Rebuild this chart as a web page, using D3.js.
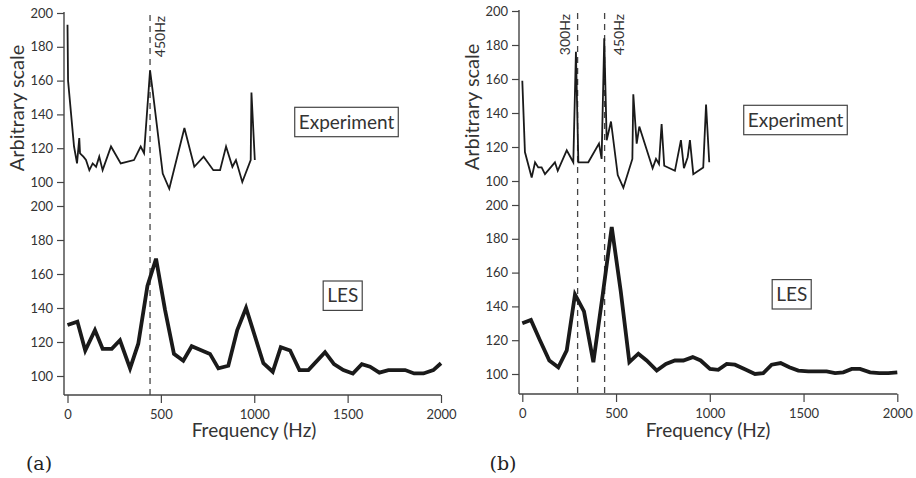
<!DOCTYPE html>
<html>
<head>
<meta charset="utf-8">
<script src="https://cdn.jsdelivr.net/npm/d3@7"></script>
<style>
  body { margin: 0; background: #fff; }
  svg { display: block; }
  text { font-family: Lato, "Open Sans", sans-serif; fill: #333; }
</style>
</head>
<body>
<div id="chart"></div>
<script>
// Spectra (frequency in Hz, arbitrary scale)
const expAFreq = [0, 3, 35, 51, 63, 67, 85, 99, 117, 135, 153, 170, 188, 233, 285, 356, 392, 410, 442, 456, 510, 545, 626, 679, 729, 781, 817, 849, 883, 902, 936, 981, 985, 1003];
const expAVal  = [193, 160, 121, 111, 126, 117, 115, 113, 107, 111, 109, 115, 107, 121, 111, 113, 121, 117, 166, 154, 105, 96, 132, 109, 115, 107, 107, 121, 109, 113, 100, 113, 153, 113];

const lesAFreq = [0, 53, 95, 147, 188, 237, 281, 335, 379, 428, 474, 522, 570, 620, 665, 719, 763, 808, 861, 909, 956, 1049, 1099, 1142, 1192, 1242, 1290, 1379, 1427, 1477, 1528, 1576, 1620, 1670, 1718, 1808, 1856, 1906, 1959, 2000];
const lesAVal  = [130, 132, 115, 127, 116, 116, 121, 104.5, 119, 153, 169, 139, 113, 109, 117.5, 115, 113, 104.5, 106, 127, 140, 107.5, 102.5, 117, 115, 103.5, 103.5, 114, 107, 103.5, 101.5, 107, 105.5, 102, 103.5, 103.5, 101.5, 101.5, 103.5, 107.5];

const expBFreq = [0, 14, 50, 68, 85, 103, 121, 174, 189, 237, 272, 286, 299, 352, 409, 423, 437, 450, 473, 509, 539, 587, 592, 610, 624, 695, 713, 729, 743, 757, 814, 846, 862, 882, 894, 912, 965, 980, 997];
const expBVal  = [159, 117, 102, 111, 108, 108, 104, 111, 106, 118, 111, 176, 111, 111, 122, 113, 184, 124, 135, 103.5, 96, 113, 151, 122, 132, 107.5, 113, 110, 133.5, 109, 106, 124, 107.5, 114, 124, 104, 108, 145, 111];

const lesBFreq = [0, 46, 94, 144, 192, 237, 281, 329, 379, 429, 477, 525, 571, 619, 663, 717, 766, 814, 859, 909, 951, 1001, 1045, 1090, 1134, 1193, 1241, 1285, 1330, 1378, 1424, 1472, 1525, 1579, 1623, 1668, 1712, 1757, 1801, 1855, 1904, 1952, 2000];
const lesBVal  = [130, 132, 120, 108, 104, 114, 147, 137, 107, 147, 187, 149, 107, 112, 108, 102, 106, 108, 108, 110, 108, 103, 102.5, 106, 105.5, 102.5, 100, 100.5, 105.5, 106.5, 104, 102, 101.5, 101.5, 101.5, 100.5, 101, 103, 103, 101, 100.5, 100.5, 101];

// Marked frequencies and their labels
const markersA = [442];
const markerLabelsA = ["450Hz"];
const markersB = [295, 439];
const markerLabelsB = ["300Hz", "450Hz"];

const xTicks = [0, 500, 1000, 1500, 2000];
const yTicks = [100, 120, 140, 160, 180, 200];
const panelTags = ["(a)", "(b)"];

const width = 916, height = 478;

const svg = d3.select("#chart").append("svg")
    .attr("width", width)
    .attr("height", height);

// Layout of the two panels (pixel positions)
const panels = [
    { exp: [expAFreq, expAVal], les: [lesAFreq, lesAVal], marks: markersA, markLabels: markerLabelsA,
      labelDx: [15], tag: panelTags[0],
      x: [67.5, 441], axisX: 64, top: [182, 13], bot: [376, 206], axisY: 395, yEnd: 12,
      yTitle: [17, 108], expBox: [346.5, 122], lesBox: [342.7, 295.7], xTitle: 254, tagX: 39 },
    { exp: [expBFreq, expBVal], les: [lesBFreq, lesBVal], marks: markersB, markLabels: markerLabelsB,
      labelDx: [-8, 19], tag: panelTags[1],
      x: [522.3, 897.3], axisX: 519, top: [181, 11], bot: [374, 205], axisY: 394, yEnd: 10,
      yTitle: [472, 107], expBox: [795.5, 120], lesBox: [791.7, 294.3], xTitle: 708, tagX: 503 }
];

panels.forEach(p => {
    const g = svg.append("g");
    const x = d3.scaleLinear().domain([0, 2000]).range(p.x);
    const yTop = d3.scaleLinear().domain([100, 200]).range(p.top);
    const yBot = d3.scaleLinear().domain([100, 200]).range(p.bot);

    // dashed marker lines
    p.marks.forEach((m, i) => {
        g.append("line")
            .attr("x1", x(m)).attr("x2", x(m))
            .attr("y1", p.yEnd + 3).attr("y2", p.axisY)
            .attr("stroke", "#444")
            .attr("stroke-width", 1.3)
            .attr("stroke-dasharray", "6,5");
        g.append("text")
            .attr("transform", `translate(${x(m) + p.labelDx[i]},${p.yEnd + 4}) rotate(-90)`)
            .attr("text-anchor", "end")
            .style("font-size", "14px")
            .text(p.markLabels[i]);
    });

    // y axes (top = experiment, bottom = LES)
    [yTop, yBot].forEach(y => {
        const ax = g.append("g")
            .attr("transform", `translate(${p.axisX},0)`)
            .call(d3.axisLeft(y).tickValues(yTicks).tickSize(7).tickSizeOuter(0).tickPadding(4));
        ax.select(".domain").remove();
        ax.selectAll("line").attr("stroke", "#444").attr("stroke-width", 1.2);
        ax.selectAll("text").style("font-size", "13px").style("font-family", "Lato, sans-serif").attr("fill", "#333");
    });
    g.append("line")
        .attr("x1", p.axisX).attr("x2", p.axisX)
        .attr("y1", p.yEnd).attr("y2", p.axisY)
        .attr("stroke", "#444").attr("stroke-width", 1.4);

    // x axis
    const xa = g.append("g")
        .attr("transform", `translate(0,${p.axisY})`)
        .call(d3.axisBottom(x).tickValues(xTicks).tickFormat(d3.format("d"))
            .tickSize(8).tickSizeOuter(0).tickPadding(7));
    xa.select(".domain").remove();
    xa.selectAll("line").attr("stroke", "#444").attr("stroke-width", 1.2);
    xa.selectAll("text").style("font-size", "13px").style("font-family", "Lato, sans-serif").attr("fill", "#333");
    g.append("line")
        .attr("x1", p.axisX).attr("x2", p.x[1])
        .attr("y1", p.axisY).attr("y2", p.axisY)
        .attr("stroke", "#444").attr("stroke-width", 1.4);

    // experiment and LES spectra
    const expLine = d3.line().x(d => x(d[0])).y(d => yTop(d[1]));
    const lesLine = d3.line().x(d => x(d[0])).y(d => yBot(d[1]));
    g.append("path")
        .datum(d3.zip(p.exp[0], p.exp[1]))
        .attr("d", expLine)
        .attr("fill", "none")
        .attr("stroke", "#1a1a1a")
        .attr("stroke-width", 1.8)
        .attr("stroke-linejoin", "miter");
    g.append("path")
        .datum(d3.zip(p.les[0], p.les[1]))
        .attr("d", lesLine)
        .attr("fill", "none")
        .attr("stroke", "#1a1a1a")
        .attr("stroke-width", 3.8)
        .attr("stroke-linejoin", "miter");

    // boxed labels
    [["Experiment", p.expBox], ["LES", p.lesBox]].forEach(([label, c]) => {
        const t = g.append("text")
            .attr("x", c[0]).attr("y", c[1] + 6.5)
            .attr("text-anchor", "middle")
            .style("font-size", "19px")
            .text(label);
        const w = t.node().getComputedTextLength();
        g.append("rect")
            .attr("x", c[0] - w / 2 - 4).attr("y", c[1] - 14.7)
            .attr("width", w + 8).attr("height", 29.4)
            .attr("fill", "none")
            .attr("stroke", "#444")
            .attr("stroke-width", 1.2);
    });

    // axis titles
    g.append("text")
        .attr("transform", `translate(${p.yTitle[0] + 7},${p.yTitle[1]}) rotate(-90)`)
        .attr("text-anchor", "middle")
        .style("font-size", "20px")
        .text("Arbitrary scale");
    g.append("text")
        .attr("x", p.xTitle).attr("y", 437)
        .attr("text-anchor", "middle")
        .style("font-size", "19px")
        .text("Frequency (Hz)");

    // panel tag
    g.append("text")
        .attr("x", p.tagX).attr("y", 470)
        .attr("text-anchor", "middle")
        .style("font-family", "'DejaVu Serif', 'Liberation Serif', serif")
        .style("font-size", "19px")
        .style("fill", "#222")
        .text(p.tag);
});
</script>
</body>
</html>
